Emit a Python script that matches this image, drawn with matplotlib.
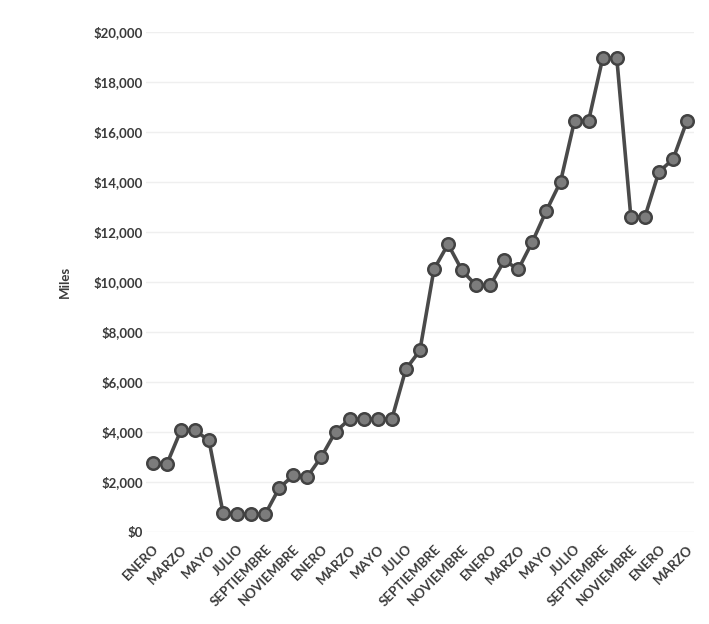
import numpy as np
import matplotlib.pyplot as plt
from matplotlib.ticker import FuncFormatter

#months shown on the axis (every second one is labelled)
meses = ["ENERO", "FEBRERO", "MARZO", "ABRIL", "MAYO", "JUNIO", "JULIO", "AGOSTO",
         "SEPTIEMBRE", "OCTUBRE", "NOVIEMBRE", "DICIEMBRE"]
categorias = meses*3 + meses[:3]
#values in miles
valores = [2750, 2700, 4050, 4050, 3650, 750, 700, 700, 700, 1750, 2250, 2200,
           3000, 4000, 4500, 4500, 4500, 4500, 6500, 7250, 10500, 11500, 10450, 9850,
           9850, 10850, 10500, 11600, 12850, 14000, 16450, 16450, 18950, 18950, 12600, 12600,
           14400, 14900, 16450]
y_ticks = list(range(0, 20001, 2000))

plt.rcParams['font.family'] = ['Lato', 'DejaVu Sans']
fig = plt.figure(figsize=(7.09, 6.24), dpi=100)
ax = fig.add_axes([0.2055, 0.148, 0.7735, 0.801])

x = np.arange(len(valores))
ax.plot(x, valores, color="#4a4a4a", linewidth=2.6, marker="o", markersize=9,
        markerfacecolor="#7c7c7c", markeredgecolor="#424242", markeredgewidth=1.8, zorder=3)

ax.set_xlim(-0.5, len(valores)-0.5)
ax.set_ylim(0, 20000)
ax.set_yticks(y_ticks)
ax.yaxis.set_major_formatter(FuncFormatter(lambda v, p: "${:,.0f}".format(v)))
ax.set_xticks(x[::2])
ax.set_xticklabels(categorias[::2], rotation=45, ha="right", rotation_mode="anchor")
#labels and formatting
ax.grid(axis="y", color="#efefef", linewidth=1.0)
ax.set_axisbelow(True)
for s in ax.spines.values():
    s.set_visible(False)
ax.tick_params(axis="both", length=0, colors="#3a3a3a")
ax.tick_params(axis="y", pad=2, labelsize=9.5)
ax.tick_params(axis="x", pad=8, labelsize=9.5)
for t in ax.get_xticklabels() + ax.get_yticklabels():
    t.set_fontweight("bold")
ax.set_ylabel("Miles", fontsize=9.5, fontweight="bold", color="#3a3a3a", labelpad=16)

fig.savefig("out.png", dpi=100)
